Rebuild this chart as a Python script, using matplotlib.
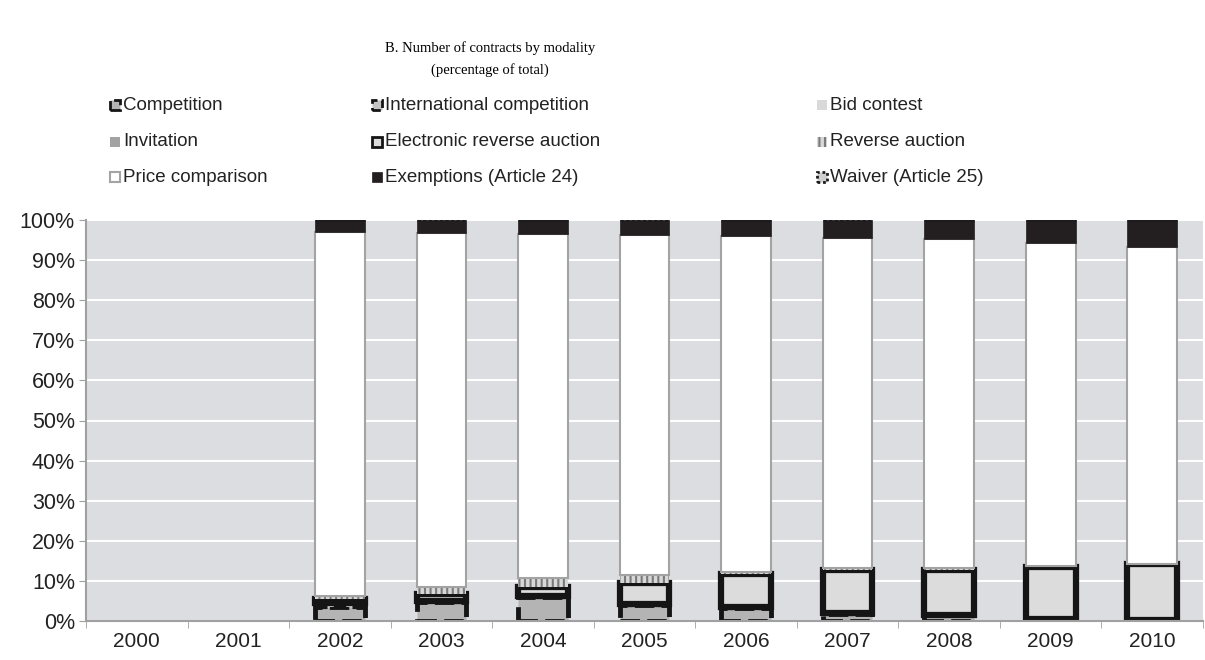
import numpy as np
import matplotlib
matplotlib.use('Agg')
import matplotlib.pyplot as plt
from matplotlib.patches import Rectangle

plt.rcParams['font.family'] = ['Liberation Sans', 'DejaVu Sans']
plt.rcParams['hatch.linewidth'] = 1.5

# Share of contracts by modality, % of total (2000-2001 have no data)
years = ['2000', '2001', '2002', '2003', '2004', '2005', '2006', '2007', '2008', '2009', '2010']
competition = [0, 0, 3.4, 4.7, 6.0, 4.0, 3.3, 1.7, 1.4, 0.3, 0.2]
international = [0, 0, 1.2, 0.3, 0.3, 0.3, 0.2, 0.2, 0.2, 0.1, 0.0]
bid_contest = [0, 0, 0, 0, 0, 0, 0, 0, 0, 0, 0]
invitation = [0, 0, 0, 0, 0, 0, 0, 0, 0, 0, 0]
electronic = [0, 0, 1.0, 1.7, 2.2, 5.3, 8.1, 10.7, 11.2, 13.0, 14.0]
reverse = [0, 0, 0.6, 1.7, 2.3, 1.8, 0.5, 0.6, 0.3, 0.2, 0.1]
price_comp = [0, 0, 90.8, 88.3, 85.7, 84.8, 84.0, 82.4, 82.1, 80.6, 79.0]
exemptions = [0, 0, 2.9, 3.2, 3.4, 3.7, 3.8, 4.3, 4.7, 5.7, 6.6]
waiver = [0, 0, 0.1, 0.1, 0.1, 0.1, 0.1, 0.1, 0.1, 0.1, 0.1]

series = [
    ('Competition', competition,
     dict(facecolor='#b4b4b4', edgecolor='#151515', linewidth=3.5, linestyle=(0, (4, 1.5)))),
    ('International competition', international,
     dict(facecolor='#c4c4c4', edgecolor='#151515', linewidth=3, linestyle=(0, (3, 1.5)))),
    ('Bid contest', bid_contest, dict(facecolor='#d9d9d9', linewidth=0)),
    ('Invitation', invitation, dict(facecolor='#a3a3a3', linewidth=0)),
    ('Electronic reverse auction', electronic,
     dict(facecolor='#dcdcdc', edgecolor='#151515', linewidth=4.5)),
    ('Reverse auction', reverse,
     dict(facecolor='#d8d8d8', edgecolor='#7a7a7a', linewidth=0, hatch='|||')),
    ('Price comparison', price_comp,
     dict(facecolor='white', edgecolor='#a3a3a3', linewidth=1.5)),
    ('Exemptions (Article 24)', exemptions,
     dict(facecolor='#231f20', edgecolor='#231f20', linewidth=0.5)),
    ('Waiver (Article 25)', waiver,
     dict(facecolor='#cfcfcf', edgecolor='#1c1c1c', linewidth=2, linestyle=(0, (1, 1)))),
]

fig = plt.figure(figsize=(12.05, 6.6), dpi=100)
ax = fig.add_axes([86 / 1205, 1 - 621 / 660, 1117 / 1205, 401 / 660])
ax.set_facecolor('#dcdde0')

x = np.arange(len(years))
bottom = np.zeros(len(years))
for name, vals, style in series:
    vals = np.array(vals, dtype=float)
    has = vals > 0
    ax.bar(x[has], vals[has], width=0.49, bottom=bottom[has], label=name, **style)
    bottom += vals

ax.set_xlim(-0.5, len(years) - 0.5)
ax.set_ylim(0, 100)
ax.set_yticks(np.arange(0, 101, 10))
ax.set_yticklabels([f'{v}%' for v in range(0, 101, 10)], fontsize=15.5, color='#222222')
ax.set_xticks(x)
ax.set_xticklabels(years, fontsize=15, color='#222222')
ax.set_xticks(np.arange(-0.5, len(years), 1), minor=True)
ax.tick_params(axis='x', which='major', length=0, pad=8)
ax.tick_params(axis='x', which='minor', length=5, color='#a0a0a0')
ax.tick_params(axis='y', length=5, color='#a0a0a0', pad=3)
ax.yaxis.grid(True, color='white', linewidth=1.5)
ax.set_axisbelow(True)
for side in ['top', 'right']:
    ax.spines[side].set_visible(False)
for side in ['left', 'bottom']:
    ax.spines[side].set_color('#a0a0a0')
    ax.spines[side].set_linewidth(1.5)

# title in serif, two lines
fig.text(490 / 1205, 1 - 48 / 660, 'B. Number of contracts by modality',
         ha='center', va='center', fontsize=10.5, family='Liberation Serif')
fig.text(490 / 1205, 1 - 70 / 660, '(percentage of total)',
         ha='center', va='center', fontsize=10.5, family='Liberation Serif')

# legend: three columns laid out row by row
col_x = [110, 372, 817]
row_y = [105, 142, 177]
for i, (name, vals, style) in enumerate(series):
    cx = col_x[i % 3]
    cy = row_y[i // 3]
    st = dict(style)
    if 'linewidth' in st:
        st['linewidth'] = min(st['linewidth'], 2)
    icon = Rectangle((cx / 1205, 1 - (cy + 5) / 660), 10 / 1205, 10 / 660,
                     transform=fig.transFigure, **st)
    fig.add_artist(icon)
    fig.text((cx + 13) / 1205, 1 - cy / 660, name, ha='left', va='center',
             fontsize=13.5, color='#222222')

fig.savefig('out.png', dpi=100)
